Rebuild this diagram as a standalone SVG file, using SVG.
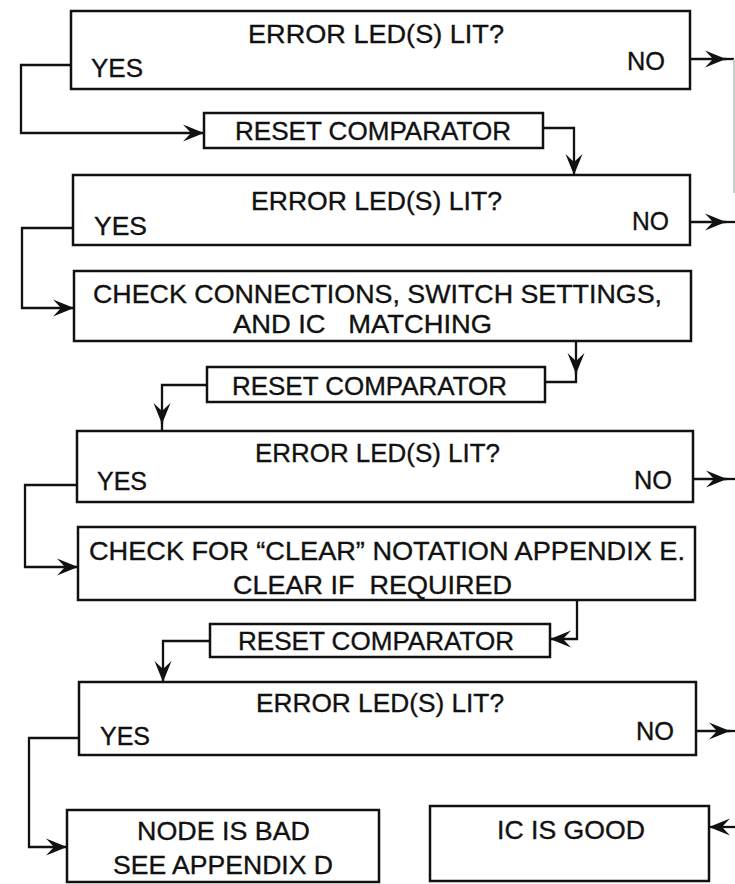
<svg xmlns="http://www.w3.org/2000/svg" width="735" height="884" viewBox="0 0 735 884">
<style>
.box{fill:none;stroke:#111;stroke-width:2.5}
.c{fill:none;stroke:#111;stroke-width:2.3;stroke-linejoin:miter}
.a{marker-end:url(#ah)}
text{font-family:"Liberation Sans",Arial,sans-serif;font-size:26px;fill:#111;stroke:#111;stroke-width:0.35}
</style>
<defs>
<marker id="ah" viewBox="-22 -10 23 20" markerWidth="23" markerHeight="20" refX="0" refY="0" orient="auto" markerUnits="userSpaceOnUse">
<path d="M-21,-8.5 L0,0 L-21,8.5 L-13,0 z" fill="#111"/>
</marker>
</defs>
<rect width="735" height="884" fill="#fff"/>
<g id="connectors">
<path class="c a" d="M71,65 H21 V133 H204"/>
<path class="c a" d="M543,128 H574 V175"/>
<path class="c a" d="M690,59 H726"/>
<path class="c" d="M724,59 H734"/>
<path d="M734,59 V193" fill="none" stroke="#bbb" stroke-width="1.5"/>
<path class="c a" d="M73,228 H22 V308 H74"/>
<path class="c a" d="M690,222 H726"/>
<path class="c" d="M723,222 H735"/>
<path class="c a" d="M576,341 V374"/>
<path class="c" d="M576,370 V382 H545"/>
<path class="c a" d="M207,385 H162 V424"/>
<path class="c" d="M162,420 V431"/>
<path class="c a" d="M77,485 H25 V567 H78"/>
<path class="c a" d="M693,479 H727"/>
<path class="c" d="M724,479 H735"/>
<path class="c a" d="M577,600 V639 H550"/>
<path class="c a" d="M210,641 H163 V682"/>
<path class="c a" d="M79,738 H29 V847 H67"/>
<path class="c a" d="M696,731 H730"/>
<path class="c" d="M728,731 H735"/>
<path class="c a" d="M735,827 H709"/>
</g>
<g id="decision1">
<rect class="box" x="71" y="11" width="619" height="78"/>
<text x="248" y="43" textLength="256" lengthAdjust="spacingAndGlyphs">ERROR LED(S) LIT?</text>
<text x="91" y="77" textLength="52" lengthAdjust="spacingAndGlyphs">YES</text>
<text x="627" y="70" textLength="38" lengthAdjust="spacingAndGlyphs">NO</text>
</g>
<g id="reset1">
<rect class="box" x="204" y="113" width="339" height="35"/>
<text x="235" y="140" textLength="276" lengthAdjust="spacingAndGlyphs">RESET COMPARATOR</text>
</g>
<g id="decision2">
<rect class="box" x="73" y="175" width="617" height="70"/>
<text x="251" y="210" textLength="251" lengthAdjust="spacingAndGlyphs">ERROR LED(S) LIT?</text>
<text x="94" y="235" textLength="53" lengthAdjust="spacingAndGlyphs">YES</text>
<text x="632" y="230" textLength="37" lengthAdjust="spacingAndGlyphs">NO</text>
</g>
<g id="check-connections">
<rect class="box" x="74" y="271" width="617" height="70"/>
<text x="93" y="303" textLength="569" lengthAdjust="spacingAndGlyphs">CHECK CONNECTIONS, SWITCH SETTINGS,</text>
<text x="233" y="333" textLength="259" lengthAdjust="spacingAndGlyphs" xml:space="preserve">AND IC   MATCHING</text>
</g>
<g id="reset2">
<rect class="box" x="207" y="367" width="338" height="35"/>
<text x="232" y="395" textLength="275" lengthAdjust="spacingAndGlyphs">RESET COMPARATOR</text>
</g>
<g id="decision3">
<rect class="box" x="77" y="431" width="616" height="71"/>
<text x="255" y="462" textLength="245" lengthAdjust="spacingAndGlyphs">ERROR LED(S) LIT?</text>
<text x="97" y="490" textLength="50" lengthAdjust="spacingAndGlyphs">YES</text>
<text x="634" y="489" textLength="38" lengthAdjust="spacingAndGlyphs">NO</text>
</g>
<g id="check-clear">
<rect class="box" x="78" y="527" width="617" height="73"/>
<text x="89" y="560" textLength="596" lengthAdjust="spacingAndGlyphs">CHECK FOR “CLEAR” NOTATION APPENDIX E.</text>
<text x="233" y="594" textLength="279" lengthAdjust="spacingAndGlyphs" xml:space="preserve">CLEAR IF  REQUIRED</text>
</g>
<g id="reset3">
<rect class="box" x="210" y="624" width="340" height="33"/>
<text x="238" y="650" textLength="276" lengthAdjust="spacingAndGlyphs">RESET COMPARATOR</text>
</g>
<g id="decision4">
<rect class="box" x="79" y="682" width="617" height="73"/>
<text x="256" y="712" textLength="248" lengthAdjust="spacingAndGlyphs">ERROR LED(S) LIT?</text>
<text x="100" y="745" textLength="50" lengthAdjust="spacingAndGlyphs">YES</text>
<text x="636" y="740" textLength="38" lengthAdjust="spacingAndGlyphs">NO</text>
</g>
<g id="node-bad">
<rect class="box" x="67" y="810" width="312" height="72"/>
<text x="137" y="840" textLength="173" lengthAdjust="spacingAndGlyphs">NODE IS BAD</text>
<text x="113" y="874" textLength="220" lengthAdjust="spacingAndGlyphs">SEE APPENDIX D</text>
</g>
<g id="ic-good">
<rect class="box" x="430" y="806" width="279" height="75"/>
<text x="497" y="839" textLength="148" lengthAdjust="spacingAndGlyphs">IC IS GOOD</text>
</g>
</svg>
